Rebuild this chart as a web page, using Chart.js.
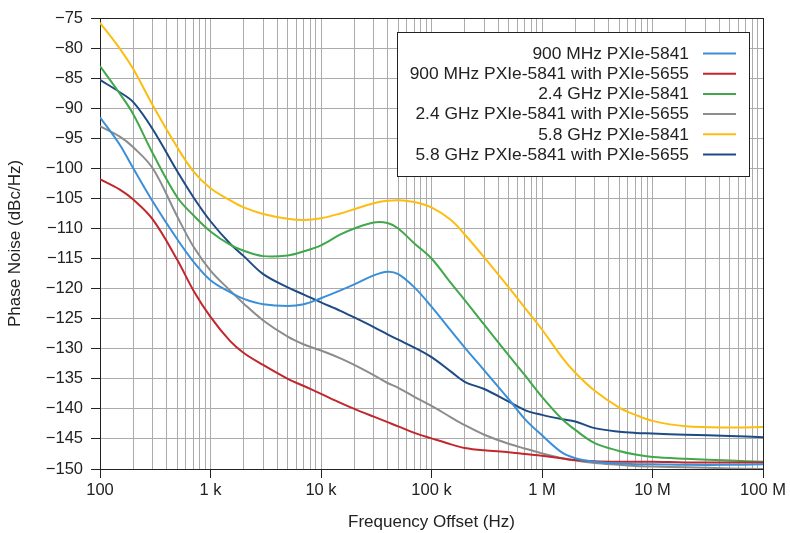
<!DOCTYPE html>
<html>
<head>
<meta charset="utf-8">
<script src="https://cdn.jsdelivr.net/npm/chart.js@4.4.1/dist/chart.umd.min.js"></script>
<style>
	body { margin: 0; background: #fff; }
	canvas { display: block; }
</style>
</head>
<body>
<canvas id="myChart" width="790" height="533"></canvas>
<script>
// frequency offsets (Hz)
var freq = [100, 150, 200, 300, 500, 700, 1e3, 1.5e3, 2e3, 3e3, 5e3, 7e3, 1e4, 1.5e4, 2e4, 3e4, 4e4, 5e4, 7e4,
	1e5, 1.5e5, 2e5, 3e5, 5e5, 7e5, 1e6, 1.5e6, 2e6, 3e6, 5e6, 7e6, 1e7, 2e7, 5e7, 1e8];

// phase noise, dBc/Hz
var pn900 = [-91.5, -96, -100, -105.5, -111.8, -115.5, -118.6, -120.6, -121.7, -122.6, -122.9, -122.6, -121.6, -120.3, -119.3, -117.8, -117.2, -117.6, -119.8,
	-123, -127, -129.8, -133.6, -138.4, -141.7, -144.4, -147.2, -148.2, -148.8, -149.1, -149.2, -149.2, -149.3, -149.3, -149.2];
var pn900lo = [-101.8, -103.5, -105.2, -108.5, -115.2, -120.3, -124.7, -128.7, -130.7, -132.7, -135, -136.2, -137.5, -139, -140, -141.3, -142.2, -142.9, -144,
	-144.9, -145.9, -146.5, -146.9, -147.2, -147.5, -147.8, -148.2, -148.5, -148.7, -148.8, -148.8, -148.8, -148.9, -148.9, -148.9];
var pn2400 = [-83, -87.5, -91, -97.5, -104.8, -107.8, -110.5, -112.7, -113.7, -114.6, -114.5, -113.8, -112.8, -111, -110, -109, -109.1, -110, -112.5,
	-115, -119.1, -121.9, -126, -131.1, -134.4, -138, -141.6, -143.5, -145.7, -147, -147.6, -148, -148.3, -148.6, -148.8];
var pn2400lo = [-93, -94.7, -96.5, -100, -108, -113, -117, -120.3, -122.5, -125.3, -128, -129.3, -130.3, -131.6, -132.7, -134.4, -135.7, -136.5, -138,
	-139.5, -141.4, -142.7, -144.3, -145.8, -146.6, -147.4, -148.2, -148.6, -149, -149.3, -149.5, -149.6, -149.7, -149.9, -150];
var pn5800 = [-75.8, -80, -83.5, -89.5, -96.5, -100.5, -103.3, -105.3, -106.5, -107.6, -108.4, -108.6, -108.3, -107.5, -106.8, -105.8, -105.4, -105.3, -105.6,
	-106.5, -108.6, -111, -114.8, -119.8, -123.2, -126.8, -131.3, -134, -137, -139.8, -141, -142, -142.9, -143.1, -143];
var pn5800lo = [-85.3, -87.3, -89, -93.5, -100.5, -104.8, -108.8, -112.5, -114.6, -117.6, -119.8, -121, -122.3, -123.7, -124.8, -126.4, -127.6, -128.5, -129.8,
	-131.4, -133.8, -135.5, -136.7, -138.8, -140.2, -141, -141.7, -142.1, -143.2, -143.8, -144, -144.1, -144.3, -144.5, -144.7];

var seriesNames = ['900 MHz PXIe-5841', '900 MHz PXIe-5841 with PXIe-5655', '2.4 GHz PXIe-5841',
	'2.4 GHz PXIe-5841 with PXIe-5655', '5.8 GHz PXIe-5841', '5.8 GHz PXIe-5841 with PXIe-5655'];
var seriesColors = ['#3b8fd8', '#c1272d', '#40a84a', '#8c8c8c', '#fdbd10', '#1f4b85'];
var series = [pn900, pn900lo, pn2400, pn2400lo, pn5800, pn5800lo];

var xTickValues = [1e2, 1e3, 1e4, 1e5, 1e6, 1e7, 1e8];
var xTickLabels = ['100', '1 k', '10 k', '100 k', '1 M', '10 M', '100 M'];

var FONT = "'Liberation Sans', Arial, sans-serif";

function isDecade(v) {
	return xTickValues.indexOf(v) >= 0;
}

// legend in a box, text right aligned and line sample on the right
var boxLegend = {
	id: 'boxLegend',
	afterDraw: function (chart) {
		var ctx = chart.ctx;
		ctx.save();
		ctx.fillStyle = '#fff';
		ctx.fillRect(397, 32, 352, 144);
		ctx.strokeStyle = '#222';
		ctx.lineWidth = 1;
		ctx.strokeRect(397.5, 32.5, 352, 144);
		ctx.font = '17.4px ' + FONT;
		ctx.textAlign = 'right';
		ctx.textBaseline = 'middle';
		chart.data.datasets.forEach(function (ds, i) {
			var y = 53 + i * 20.2;
			ctx.fillStyle = '#222';
			ctx.fillText(ds.label, 689, y + 1);
			ctx.strokeStyle = ds.borderColor;
			ctx.lineWidth = 2;
			ctx.beginPath();
			ctx.moveTo(703, y + 0.5);
			ctx.lineTo(736, y + 0.5);
			ctx.stroke();
		});
		ctx.restore();
	}
};

var datasets = series.map(function (s, i) {
	return {
		label: seriesNames[i],
		data: s.map(function (v, j) { return { x: freq[j], y: v }; }),
		borderColor: seriesColors[i],
		borderWidth: 2,
		pointRadius: 0,
		fill: false,
		tension: 0.35
	};
});

var phaseChart = new Chart(document.getElementById('myChart'), {
	type: 'line',
	data: { datasets: datasets },
	options: {
		responsive: false,
		animation: false,
		devicePixelRatio: 1,
		layout: { padding: { top: 18, right: 27, left: 0, bottom: 0 } },
		plugins: {
			legend: { display: false },
			tooltip: { enabled: false }
		},
		scales: {
			x: {
				type: 'logarithmic',
				min: 100,
				max: 1e8,
				afterBuildTicks: function (scale) {
					var t = [];
					for (var d = 100; d < 1e8; d *= 10) {
						for (var k = 1; k < 10; k++) t.push({ value: d * k });
					}
					t.push({ value: 1e8 });
					scale.ticks = t;
				},
				afterFit: function (scale) { scale.height = 64; },
				border: { display: true, color: '#222', width: 1 },
				grid: {
					color: function (c) { return c.tick && c.tick.value === 1e8 ? '#222' : '#ababab'; },
					tickColor: function (c) { return c.tick && isDecade(c.tick.value) ? '#222' : 'rgba(0,0,0,0)'; },
					tickLength: 9
				},
				ticks: {
					autoSkip: false,
					maxRotation: 0,
					padding: 3,
					color: '#222',
					font: { family: FONT, size: 16.5 },
					callback: function (v) {
						var i = xTickValues.indexOf(v);
						return i >= 0 ? xTickLabels[i] : '';
					}
				},
				title: {
					display: true,
					text: 'Frequency Offset (Hz)',
					color: '#222',
					font: { family: FONT, size: 17 },
					padding: { top: 0, bottom: 0 }
				}
			},
			y: {
				min: -150,
				max: -75,
				afterFit: function (scale) { scale.width = 100; },
				border: { display: true, color: '#222', width: 1 },
				grid: {
					color: function (c) { return c.tick && c.tick.value === -75 ? '#222' : '#ababab'; },
					tickColor: '#222',
					tickLength: 9
				},
				ticks: {
					stepSize: 5,
					padding: 8,
					color: '#222',
					font: { family: FONT, size: 16.5 },
					callback: function (v) { return v < 0 ? '\u2212' + Math.abs(v) : String(v); }
				},
				title: {
					display: true,
					text: 'Phase Noise (dBc/Hz)',
					color: '#222',
					font: { family: FONT, size: 17 },
					padding: { top: 5, bottom: 0 }
				}
			}
		}
	},
	plugins: [boxLegend]
});
</script>
</body>
</html>
